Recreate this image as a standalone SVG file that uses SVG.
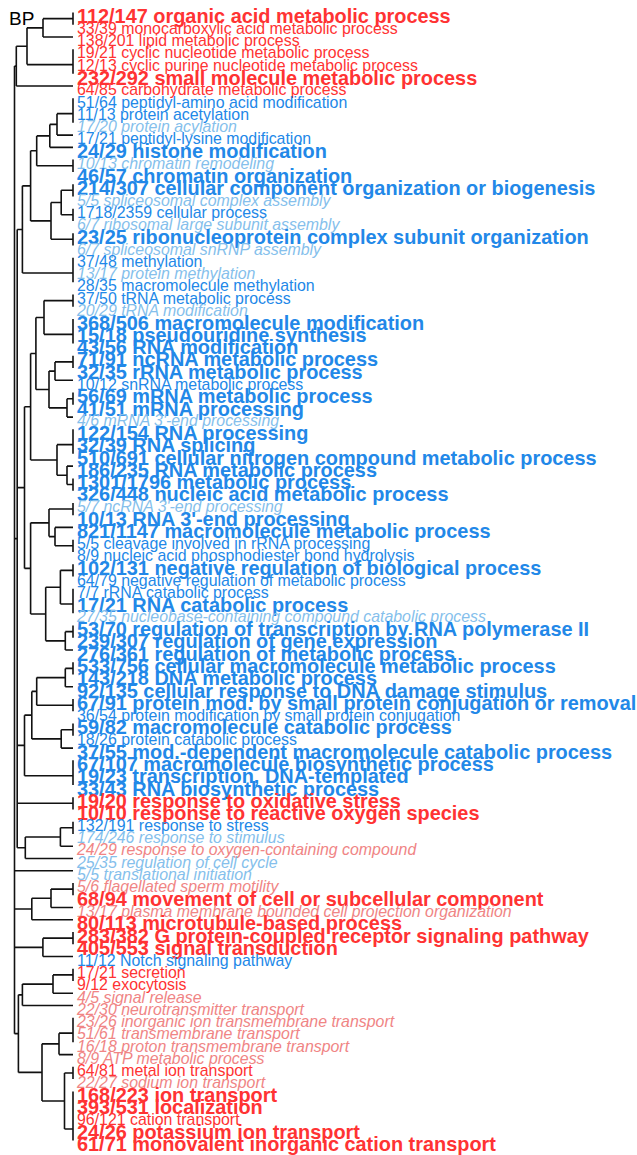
<svg xmlns="http://www.w3.org/2000/svg" width="637" height="1155" viewBox="0 0 637 1155">
<style>
text{font-family:"Liberation Sans",Arial,sans-serif}
.b{font-size:19.9px;font-weight:bold}
.n{font-size:15.9px}
.i{font-size:15.9px;font-style:italic}
.R{fill:#ff3333}.LR{fill:#f08585}.B{fill:#2288e8}.LB{fill:#85bfec}
#tree path{fill:none;stroke:#111;stroke-width:1.6}
</style>
<rect width="637" height="1155" fill="#fff"/>
<text x="9" y="25" font-size="19" fill="#000">BP</text>
<g id="tree">
<path d="M73 12.5V24.76M43 18.63H73M43 37.02H73M43 18.63V37.02M73 49.28V73.8M27 27.83H43M27 64.6H73M27 27.83V64.6M16.3 46.2H27M16.3 86.06H73M16.3 46.2V86.06"/>
<path d="M73 98.32V122.84M57 113.65H73M57 135.1H73M57 113.65V135.1M49.8 124.4H57M49.8 147.36H73M49.8 124.4V147.36M73 159.62V171.88M36.7 135.9H49.8M36.7 165.75H73M36.7 135.9V165.75"/>
<path d="M73 184.14V196.4M73 208.66V220.92M61.2 190.27H73M61.2 214.79H73M61.2 190.27V214.79M73 233.18V245.44M51 202.5H61.2M51 239.31H73M51 202.5V239.31M30.6 150.8H36.7M30.6 220.9H51M30.6 150.8V220.9M73 257.7V282.22M22.4 185.85H30.6M22.4 273.03H73M22.4 185.85V273.03"/>
<path d="M73 294.48V306.74M73 319V343.52M44 300.61H73M44 334.33H73M44 300.61V334.33M73 355.78V368.04M55 361.91H73M55 380.3H73M55 361.91V380.3"/>
<path d="M73 392.56V404.82M67 398.69H73M67 417.08H73M67 398.69V417.08M49 371.1H55M49 407.89H67M49 371.1V407.89M35.9 317.47H44M35.9 389.49H49M35.9 317.47V389.49"/>
<path d="M73 429.34V453.86M73 478.38V490.64M67 466.12H73M67 484.51H73M67 466.12V484.51M57 444.67H73M57 475.32H67M57 444.67V475.32M30.6 353.48H35.9M30.6 459.99H57M30.6 353.48V459.99"/>
<path d="M73 502.9V515.16M73 539.68V551.94M55 527.42H73M55 545.81H73M55 527.42V545.81M49 509.03H73M49 536.62H55M49 509.03V536.62"/>
<path d="M73 564.2V576.46M73 588.72V613.24M60.4 570.33H73M60.4 604.05H73M60.4 570.33V604.05M73 625.5V637.76M65.3 631.63H73M65.3 650.02H73M65.3 631.63V650.02M45.7 587.19H60.4M45.7 640.83H65.3M45.7 587.19V640.83"/>
<path d="M30.6 522.83H49M30.6 614.01H45.7M30.6 522.83V614.01M24.5 406.74H30.6M24.5 568.42H30.6M24.5 406.74V568.42"/>
<path d="M73 662.28V674.54M65.3 668.41H73M65.3 686.8H73M65.3 668.41V686.8M73 699.06V711.32M36.7 677.6H65.3M36.7 705.19H73M36.7 677.6V705.19M73 723.58V735.84M61.2 729.71H73M61.2 748.1H73M61.2 729.71V748.1M31.8 691.4H36.7M31.8 738.9H61.2M31.8 691.4V738.9M73 760.36V784.88M24.5 715.15H31.8M24.5 775.69H73M24.5 715.15V775.69"/>
<path d="M73 797.14V809.4M73 821.66V833.92M60.4 827.79H73M60.4 846.18H73M60.4 827.79V846.18M25.3 836.99H60.4M25.3 858.44H73M25.3 836.99V858.44"/>
<path d="M17.2 229.44V847.72M17.2 229.44H22.4M17.2 487.58H24.5M17.2 745.42H24.5M17.2 803.27H73M17.2 847.72H25.3M14.5 538.6H17.2"/>
<path d="M73 882.96V895.22M51 889.09H73M51 907.48H73M51 889.09V907.48M31.8 898.29H51M31.8 919.74H73M31.8 898.29V919.74M73 932V944.26M42.9 938.13H73M42.9 956.52H73M42.9 938.13V956.52"/>
<path d="M73 968.78V981.04M53 974.91H73M53 993.3H73M53 974.91V993.3M22.4 984.1H53M22.4 1005.56H73M22.4 984.1V1005.56"/>
<path d="M73 1017.82V1042.34M59 1033.15H73M59 1054.6H73M59 1033.15V1054.6M73 1066.86V1079.12M73 1091.38V1140.42M64.5 1072.99H73M64.5 1128.93H73M64.5 1072.99V1128.93M42 1043.87H59M42 1100.96H64.5M42 1043.87V1100.96M18.4 994.83H22.4M18.4 1072.42H42M18.4 994.83V1072.42"/>
<path d="M14.5 66.1V1033.63M14.5 66.1H16.3M14.5 870.7H73M14.5 909.01H31.8M14.5 947.33H42.9M14.5 1033.63H18.4"/>
</g>
<g id="n1"><text x="77" y="23.2" class="b R">112/147 organic acid metabolic process</text></g>
<g id="n2"><text x="77" y="33.96" class="n R">33/39 monocarboxylic acid metabolic process</text></g>
<g id="n3"><text x="77" y="46.22" class="n R">138/201 lipid metabolic process</text></g>
<g id="n4"><text x="77" y="58.48" class="n R">19/21 cyclic nucleotide metabolic process</text></g>
<g id="n5"><text x="77" y="70.74" class="n R">12/13 cyclic purine nucleotide metabolic process</text></g>
<g id="n6"><text x="77" y="84.5" class="b R">232/292 small molecule metabolic process</text></g>
<g id="n7"><text x="77" y="95.26" class="n R">64/85 carbohydrate metabolic process</text></g>
<g id="n8"><text x="77" y="107.52" class="n B">51/64 peptidyl-amino acid modification</text></g>
<g id="n9"><text x="77" y="119.78" class="n B">11/13 protein acetylation</text></g>
<g id="n10"><text x="77" y="132.04" class="i LB">17/20 protein acylation</text></g>
<g id="n11"><text x="77" y="144.3" class="n B">17/21 peptidyl-lysine modification</text></g>
<g id="n12"><text x="77" y="158.06" class="b B">24/29 histone modification</text></g>
<g id="n13"><text x="77" y="168.82" class="i LB">10/13 chromatin remodeling</text></g>
<g id="n14"><text x="77" y="182.58" class="b B">46/57 chromatin organization</text></g>
<g id="n15"><text x="77" y="194.84" class="b B">214/307 cellular component organization or biogenesis</text></g>
<g id="n16"><text x="77" y="205.6" class="i LB">5/5 spliceosomal complex assembly</text></g>
<g id="n17"><text x="77" y="217.86" class="n B">1718/2359 cellular process</text></g>
<g id="n18"><text x="77" y="230.12" class="i LB">6/7 ribosomal large subunit assembly</text></g>
<g id="n19"><text x="77" y="243.88" class="b B">23/25 ribonucleoprotein complex subunit organization</text></g>
<g id="n20"><text x="77" y="254.64" class="i LB">6/7 spliceosomal snRNP assembly</text></g>
<g id="n21"><text x="77" y="266.9" class="n B">37/48 methylation</text></g>
<g id="n22"><text x="77" y="279.16" class="i LB">13/17 protein methylation</text></g>
<g id="n23"><text x="77" y="291.42" class="n B">28/35 macromolecule methylation</text></g>
<g id="n24"><text x="77" y="303.68" class="n B">37/50 tRNA metabolic process</text></g>
<g id="n25"><text x="77" y="315.94" class="i LB">20/29 tRNA modification</text></g>
<g id="n26"><text x="77" y="329.7" class="b B">368/506 macromolecule modification</text></g>
<g id="n27"><text x="77" y="341.96" class="b B">15/18 pseudouridine synthesis</text></g>
<g id="n28"><text x="77" y="354.22" class="b B">43/56 RNA modification</text></g>
<g id="n29"><text x="77" y="366.48" class="b B">71/91 ncRNA metabolic process</text></g>
<g id="n30"><text x="77" y="378.74" class="b B">32/35 rRNA metabolic process</text></g>
<g id="n31"><text x="77" y="389.5" class="n B">10/12 snRNA metabolic process</text></g>
<g id="n32"><text x="77" y="403.26" class="b B">56/69 mRNA metabolic process</text></g>
<g id="n33"><text x="77" y="415.52" class="b B">41/51 mRNA processing</text></g>
<g id="n34"><text x="77" y="426.28" class="i LB">4/6 mRNA 3'-end processing</text></g>
<g id="n35"><text x="77" y="440.04" class="b B">122/154 RNA processing</text></g>
<g id="n36"><text x="77" y="452.3" class="b B">32/39 RNA splicing</text></g>
<g id="n37"><text x="77" y="464.56" class="b B">510/691 cellular nitrogen compound metabolic process</text></g>
<g id="n38"><text x="77" y="476.82" class="b B">186/235 RNA metabolic process</text></g>
<g id="n39"><text x="77" y="489.08" class="b B">1301/1796 metabolic process</text></g>
<g id="n40"><text x="77" y="501.34" class="b B">326/448 nucleic acid metabolic process</text></g>
<g id="n41"><text x="77" y="512.1" class="i LB">5/7 ncRNA 3'-end processing</text></g>
<g id="n42"><text x="77" y="525.86" class="b B">10/13 RNA 3'-end processing</text></g>
<g id="n43"><text x="77" y="538.12" class="b B">821/1147 macromolecule metabolic process</text></g>
<g id="n44"><text x="77" y="548.88" class="n B">5/5 cleavage involved in rRNA processing</text></g>
<g id="n45"><text x="77" y="561.14" class="n B">8/9 nucleic acid phosphodiester bond hydrolysis</text></g>
<g id="n46"><text x="77" y="574.9" class="b B">102/131 negative regulation of biological process</text></g>
<g id="n47"><text x="77" y="585.66" class="n B">64/79 negative regulation of metabolic process</text></g>
<g id="n48"><text x="77" y="597.92" class="n B">7/7 rRNA catabolic process</text></g>
<g id="n49"><text x="77" y="611.68" class="b B">17/21 RNA catabolic process</text></g>
<g id="n50"><text x="77" y="622.44" class="i LB">27/35 nucleobase-containing compound catabolic process</text></g>
<g id="n51"><text x="77" y="636.2" class="b B">53/70 regulation of transcription by RNA polymerase II</text></g>
<g id="n52"><text x="77" y="648.46" class="b B">239/307 regulation of gene expression</text></g>
<g id="n53"><text x="77" y="660.72" class="b B">276/361 regulation of metabolic process</text></g>
<g id="n54"><text x="77" y="672.98" class="b B">533/756 cellular macromolecule metabolic process</text></g>
<g id="n55"><text x="77" y="685.24" class="b B">143/218 DNA metabolic process</text></g>
<g id="n56"><text x="77" y="697.5" class="b B">92/135 cellular response to DNA damage stimulus</text></g>
<g id="n57"><text x="77" y="709.76" class="b B">67/91 protein mod. by small protein conjugation or removal</text></g>
<g id="n58"><text x="77" y="720.52" class="n B">36/54 protein modification by small protein conjugation</text></g>
<g id="n59"><text x="77" y="734.28" class="b B">59/82 macromolecule catabolic process</text></g>
<g id="n60"><text x="77" y="745.04" class="n B">18/26 protein catabolic process</text></g>
<g id="n61"><text x="77" y="758.8" class="b B">37/55 mod.-dependent macromolecule catabolic process</text></g>
<g id="n62"><text x="77" y="771.06" class="b B">67/107 macromolecule biosynthetic process</text></g>
<g id="n63"><text x="77" y="783.32" class="b B">19/23 transcription, DNA-templated</text></g>
<g id="n64"><text x="77" y="795.58" class="b B">33/43 RNA biosynthetic process</text></g>
<g id="n65"><text x="77" y="807.84" class="b R">19/20 response to oxidative stress</text></g>
<g id="n66"><text x="77" y="820.1" class="b R">10/10 response to reactive oxygen species</text></g>
<g id="n67"><text x="77" y="830.86" class="n B">132/191 response to stress</text></g>
<g id="n68"><text x="77" y="843.12" class="i LB">174/246 response to stimulus</text></g>
<g id="n69"><text x="77" y="855.38" class="i LR">24/29 response to oxygen-containing compound</text></g>
<g id="n70"><text x="77" y="867.64" class="i LB">25/35 regulation of cell cycle</text></g>
<g id="n71"><text x="77" y="879.9" class="i LB">5/5 translational initiation</text></g>
<g id="n72"><text x="77" y="892.16" class="i LR">5/6 flagellated sperm motility</text></g>
<g id="n73"><text x="77" y="905.92" class="b R">68/94 movement of cell or subcellular component</text></g>
<g id="n74"><text x="77" y="916.68" class="i LR">13/17 plasma membrane bounded cell projection organization</text></g>
<g id="n75"><text x="77" y="930.44" class="b R">80/113 microtubule-based process</text></g>
<g id="n76"><text x="77" y="942.7" class="b R">283/382 G protein-coupled receptor signaling pathway</text></g>
<g id="n77"><text x="77" y="954.96" class="b R">405/553 signal transduction</text></g>
<g id="n78"><text x="77" y="965.72" class="n B">11/12 Notch signaling pathway</text></g>
<g id="n79"><text x="77" y="977.98" class="n R">17/21 secretion</text></g>
<g id="n80"><text x="77" y="990.24" class="n R">9/12 exocytosis</text></g>
<g id="n81"><text x="77" y="1002.5" class="i LR">4/5 signal release</text></g>
<g id="n82"><text x="77" y="1014.76" class="i LR">22/30 neurotransmitter transport</text></g>
<g id="n83"><text x="77" y="1027.02" class="i LR">23/26 inorganic ion transmembrane transport</text></g>
<g id="n84"><text x="77" y="1039.28" class="i LR">51/61 transmembrane transport</text></g>
<g id="n85"><text x="77" y="1051.54" class="i LR">16/18 proton transmembrane transport</text></g>
<g id="n86"><text x="77" y="1063.8" class="i LR">8/9 ATP metabolic process</text></g>
<g id="n87"><text x="77" y="1076.06" class="n R">64/81 metal ion transport</text></g>
<g id="n88"><text x="77" y="1088.32" class="i LR">22/27 sodium ion transport</text></g>
<g id="n89"><text x="77" y="1102.08" class="b R">168/223 ion transport</text></g>
<g id="n90"><text x="77" y="1114.34" class="b R">393/531 localization</text></g>
<g id="n91"><text x="77" y="1125.1" class="n R">96/121 cation transport</text></g>
<g id="n92"><text x="77" y="1138.86" class="b R">24/26 potassium ion transport</text></g>
<g id="n93"><text x="77" y="1151.12" class="b R">61/71 monovalent inorganic cation transport</text></g>
</svg>
